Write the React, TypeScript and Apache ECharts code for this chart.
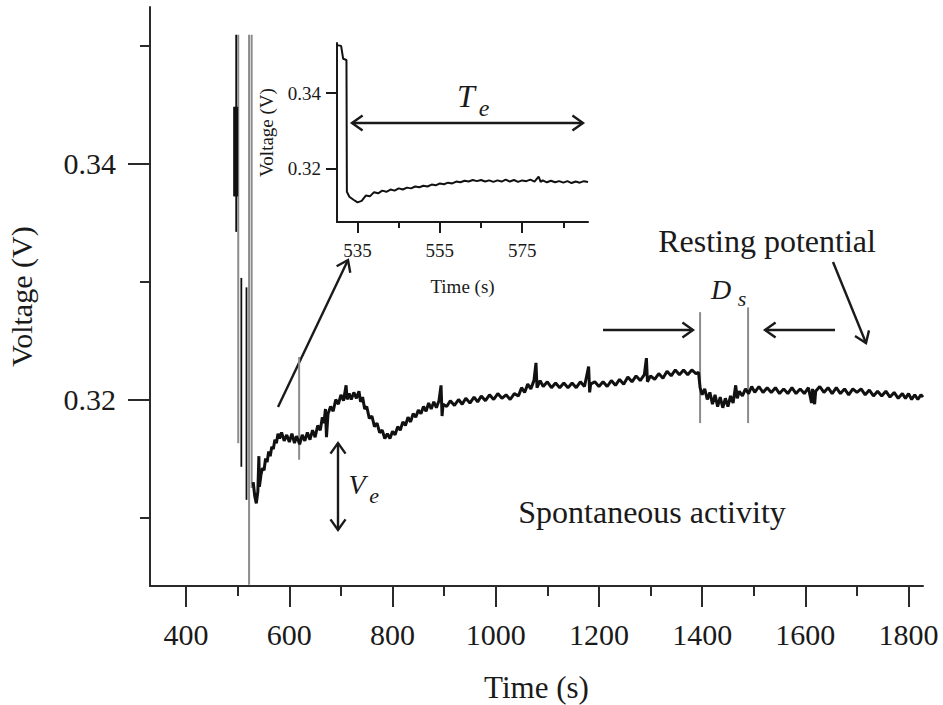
import React, { useEffect, useRef } from "react";
import * as echarts from "echarts";

// ---- tick values ----
const xMajorTicks = [400, 600, 800, 1000, 1200, 1400, 1600, 1800];
const xMinorTicks = [500, 700, 900, 1100, 1300, 1500, 1700];
const yMajorTicks = [0.32, 0.34];
const yMinorTicks = [0.31, 0.33, 0.35];
const insetXMajor = [535, 555, 575];
const insetXMinor = [545, 565, 585];
const insetYTicks = [0.32, 0.34];

// ---- main recording (time s, voltage V) ----
const mainTrace = [
  [530, 0.313], [533, 0.3118], [536, 0.3112], [539, 0.3122], [541, 0.3152], [542, 0.3126], [545, 0.3136],
  [548, 0.3142], [551, 0.314], [554, 0.315], [557, 0.3147], [560, 0.3156], [563, 0.3152], [566, 0.316],
  [569, 0.3158], [572, 0.3166], [575, 0.3163], [578, 0.3171], [581, 0.3167], [585, 0.3172], [590, 0.3165],
  [595, 0.317], [600, 0.3164], [605, 0.3171], [610, 0.3163], [614, 0.3169], [620, 0.3162], [625, 0.317],
  [630, 0.3165], [635, 0.3172], [640, 0.3166], [645, 0.3174], [650, 0.3168], [655, 0.3178], [660, 0.3174],
  [664, 0.3185], [667, 0.318], [670, 0.3192], [672, 0.3168], [675, 0.3188], [680, 0.3194], [685, 0.319],
  [690, 0.32], [695, 0.3196], [700, 0.3204], [705, 0.3199], [710, 0.3212], [712, 0.32], [716, 0.3205],
  [720, 0.32], [725, 0.3206], [730, 0.3201], [735, 0.3207], [738, 0.3198], [742, 0.3202], [746, 0.3192],
  [750, 0.3194], [755, 0.3184], [760, 0.3186], [765, 0.3177], [770, 0.318], [775, 0.3172], [780, 0.3174],
  [785, 0.3167], [790, 0.3171], [795, 0.3167], [800, 0.3173], [805, 0.317], [810, 0.3177], [815, 0.3174],
  [820, 0.3181], [825, 0.3178], [830, 0.3185], [835, 0.3181], [840, 0.3188], [845, 0.3185], [850, 0.3191],
  [855, 0.3188], [860, 0.3194], [865, 0.319], [870, 0.3197], [875, 0.3192], [880, 0.3198], [885, 0.3193],
  [890, 0.3199], [894, 0.3212], [896, 0.3186], [898, 0.3196], [905, 0.3194], [912, 0.3199], [920, 0.3195],
  [928, 0.32], [935, 0.3196], [942, 0.3201], [950, 0.3197], [958, 0.3202], [965, 0.3198], [972, 0.3203],
  [980, 0.3199], [988, 0.3204], [996, 0.32], [1004, 0.3205], [1012, 0.3201], [1020, 0.3204], [1028, 0.32],
  [1036, 0.3205], [1044, 0.3203], [1050, 0.321], [1056, 0.3206], [1062, 0.3213], [1068, 0.3209],
  [1074, 0.3216], [1078, 0.3231], [1080, 0.321], [1086, 0.3216], [1092, 0.3211], [1100, 0.3215],
  [1108, 0.321], [1116, 0.3214], [1124, 0.321], [1132, 0.3214], [1140, 0.321], [1148, 0.3214],
  [1156, 0.321], [1164, 0.3215], [1172, 0.3211], [1180, 0.3228], [1182, 0.3206], [1184, 0.3213],
  [1192, 0.3215], [1200, 0.3211], [1208, 0.3215], [1216, 0.3211], [1224, 0.3216], [1232, 0.3212],
  [1240, 0.3217], [1248, 0.3213], [1256, 0.3219], [1264, 0.3215], [1272, 0.322], [1280, 0.3216],
  [1288, 0.3221], [1292, 0.3235], [1294, 0.3215], [1300, 0.322], [1308, 0.3217], [1316, 0.3222],
  [1324, 0.3218], [1332, 0.3224], [1340, 0.322], [1348, 0.3225], [1356, 0.3221], [1364, 0.3225],
  [1372, 0.3221], [1380, 0.3225], [1388, 0.3222], [1393, 0.3223], [1396, 0.321], [1400, 0.3204],
  [1405, 0.3209], [1410, 0.32], [1415, 0.3206], [1420, 0.3196], [1425, 0.3204], [1430, 0.3194],
  [1435, 0.3202], [1440, 0.3193], [1445, 0.3201], [1450, 0.3194], [1455, 0.3203], [1460, 0.3197],
  [1465, 0.3212], [1468, 0.3201], [1472, 0.3207], [1478, 0.3203], [1484, 0.3209], [1490, 0.3205],
  [1496, 0.3211], [1502, 0.3206], [1510, 0.3211], [1518, 0.3206], [1526, 0.321], [1534, 0.3206],
  [1542, 0.321], [1550, 0.3205], [1558, 0.3209], [1566, 0.3205], [1574, 0.321], [1582, 0.3205],
  [1590, 0.3209], [1598, 0.3205], [1606, 0.321], [1612, 0.3197], [1614, 0.3209], [1618, 0.3196],
  [1620, 0.3207], [1628, 0.3211], [1636, 0.3206], [1644, 0.321], [1652, 0.3205], [1660, 0.321],
  [1668, 0.3205], [1676, 0.3209], [1684, 0.3204], [1692, 0.3209], [1700, 0.3206], [1708, 0.3209],
  [1716, 0.3204], [1724, 0.3208], [1732, 0.3203], [1740, 0.3207], [1748, 0.3203], [1756, 0.3207],
  [1764, 0.3202], [1772, 0.3206], [1780, 0.3201], [1788, 0.3205], [1794, 0.3201], [1800, 0.3205],
  [1806, 0.32], [1812, 0.3204], [1818, 0.32], [1824, 0.3204], [1828, 0.3202],
];

// vertical excursions: [time, low V, high V]
const graySpikes = [
  [501, 0.3163, 0.3509], [522, 0.3043, 0.3509], [527, 0.3125, 0.3509], [619, 0.3149, 0.3236],
  [1396, 0.318, 0.3274], [1489, 0.318, 0.3278],
];
const blackSpikes = [
  [497, 0.3342, 0.3509], [507, 0.3143, 0.3303], [517, 0.3115, 0.3295],
];
const thickSpikes = [[496, 0.3372, 0.3448]];

// ---- inset recording ----
const insetTrace = [
  [530, 0.3526], [531, 0.3524], [531.5, 0.349], [532.3, 0.3487], [532.4, 0.314], [533, 0.3127],
  [534, 0.3119], [535, 0.3112], [536, 0.3116], [537, 0.313], [538, 0.3128], [539, 0.3139], [540, 0.3136],
  [541, 0.3143], [542, 0.314], [543, 0.3146], [544, 0.3143], [545, 0.3149], [546, 0.3146], [547, 0.3151],
  [548, 0.3149], [549, 0.3154], [550, 0.3152], [551, 0.3156], [552, 0.3154], [553, 0.3159], [554, 0.3157],
  [555, 0.3162], [556, 0.316], [557, 0.3164], [558, 0.3162], [559, 0.3167], [560, 0.3165], [561, 0.3169],
  [562, 0.3167], [563, 0.3171], [564, 0.3168], [565, 0.3171], [566, 0.3167], [567, 0.317], [568, 0.3166],
  [569, 0.317], [570, 0.3167], [571, 0.3172], [572, 0.3167], [573, 0.3171], [574, 0.3166], [575, 0.317],
  [576, 0.3168], [577, 0.3172], [578, 0.3167], [579, 0.318], [579.5, 0.3166], [580, 0.317], [581, 0.3165],
  [582, 0.3169], [583, 0.3165], [584, 0.3168], [585, 0.3164], [586, 0.3168], [587, 0.3163], [588, 0.3167],
  [589, 0.3164], [590, 0.3168], [591, 0.3166],
];

const SERIF = '"Liberation Serif", "DejaVu Serif", serif';
const INK = "#1a1a1a";
const AXIS = "#2a2a2a";

function barSeries(data: number[][], color: string, width: number, xi: number, yi: number) {
  return {
    type: "custom",
    xAxisIndex: xi,
    yAxisIndex: yi,
    data,
    clip: true,
    z: 3,
    encode: { x: 0, y: [1, 2] },
    renderItem: (_p: any, api: any) => {
      const a = api.coord([api.value(0), api.value(1)]);
      const b = api.coord([api.value(0), api.value(2)]);
      return {
        type: "line",
        shape: { x1: a[0], y1: a[1], x2: b[0], y2: b[1] },
        style: { stroke: color, lineWidth: width },
      };
    },
  };
}

function head(tx: number, ty: number, fx: number, fy: number, len = 13, ang = 0.62) {
  const a = Math.atan2(fy - ty, fx - tx);
  return {
    type: "polyline",
    shape: {
      points: [
        [tx + len * Math.cos(a + ang), ty + len * Math.sin(a + ang)],
        [tx, ty],
        [tx + len * Math.cos(a - ang), ty + len * Math.sin(a - ang)],
      ],
    },
    style: { stroke: INK, lineWidth: 2.4, fill: null },
  };
}

function shaft(x1: number, y1: number, x2: number, y2: number) {
  return { type: "line", shape: { x1, y1, x2, y2 }, style: { stroke: INK, lineWidth: 2.4 } };
}

function label(text: string, x: number, y: number, size: number, italic = false) {
  return {
    type: "text",
    x,
    y,
    style: {
      text,
      fontSize: size,
      fontFamily: SERIF,
      fontStyle: italic ? "italic" : "normal",
      fill: INK,
      align: "center",
      verticalAlign: "middle",
      textAlign: "center",
      textVerticalAlign: "middle",
    },
  };
}

const plain = (v: number) => String(v);
const twoDp = (v: number) => v.toFixed(2);

export default function App() {
  const ref = useRef<HTMLDivElement>(null);
  useEffect(() => {
    if (!ref.current) return;
    const chart = echarts.init(ref.current, undefined, { renderer: "svg" });
    const tickLine = { color: AXIS, width: 2 };
    const option: any = {
      animation: false,
      backgroundColor: "#fff",
      grid: [
        { left: 150, top: 7, right: 20, bottom: 119, containLabel: false, outerBoundsMode: "none" },
        { left: 337, top: 43, right: 355, bottom: 483, containLabel: false, outerBoundsMode: "none" },
      ],
      xAxis: [
        {
          gridIndex: 0, type: "value", min: 330, max: 1828, position: "bottom",
          axisLine: { show: true, lineStyle: tickLine },
          axisTick: { show: true, customValues: xMajorTicks, length: 21, lineStyle: tickLine },
          axisLabel: { customValues: xMajorTicks, fontSize: 30, fontFamily: SERIF, color: INK, margin: 33, formatter: plain },
          splitLine: { show: false },
          name: "Time (s)", nameLocation: "middle", nameGap: 86,
          nameTextStyle: { fontSize: 31, fontFamily: SERIF, color: INK },
        },
        {
          gridIndex: 0, type: "value", min: 330, max: 1828, position: "bottom",
          axisLine: { show: false },
          axisTick: { show: true, customValues: xMinorTicks, length: 10, lineStyle: tickLine },
          axisLabel: { show: false },
          splitLine: { show: false },
        },
        {
          gridIndex: 1, type: "value", min: 530, max: 591, position: "bottom",
          axisLine: { show: true, lineStyle: { color: INK, width: 2 } },
          axisTick: { show: true, customValues: insetXMajor, length: 11, lineStyle: { color: INK, width: 2 } },
          axisLabel: { customValues: insetXMajor, fontSize: 19, fontFamily: SERIF, color: INK, margin: 19, formatter: plain },
          splitLine: { show: false },
          name: "Time (s)", nameLocation: "middle", nameGap: 55,
          nameTextStyle: { fontSize: 19, fontFamily: SERIF, color: INK },
        },
        {
          gridIndex: 1, type: "value", min: 530, max: 591, position: "bottom",
          axisLine: { show: false },
          axisTick: { show: true, customValues: insetXMinor, length: 6, lineStyle: { color: INK, width: 2 } },
          axisLabel: { show: false },
          splitLine: { show: false },
        },
      ],
      yAxis: [
        {
          gridIndex: 0, type: "value", min: 0.3042, max: 0.35325, position: "left",
          axisLine: { show: true, lineStyle: tickLine },
          axisTick: { show: true, customValues: yMajorTicks, length: 22, lineStyle: tickLine },
          axisLabel: {
            customValues: yMajorTicks, fontSize: 30, fontFamily: SERIF, color: INK, margin: 34, formatter: twoDp,
          },
          splitLine: { show: false },
          name: "Voltage (V)", nameLocation: "middle", nameGap: 114, nameRotate: 90,
          nameTextStyle: { fontSize: 30, fontFamily: SERIF, color: INK },
        },
        {
          gridIndex: 0, type: "value", min: 0.3042, max: 0.35325, position: "left",
          axisLine: { show: false },
          axisTick: { show: true, customValues: yMinorTicks, length: 10, lineStyle: tickLine },
          axisLabel: { show: false },
          splitLine: { show: false },
        },
        {
          gridIndex: 1, type: "value", min: 0.30605, max: 0.35316, position: "left",
          axisLine: { show: true, lineStyle: { color: INK, width: 2 } },
          axisTick: { show: true, customValues: insetYTicks, length: 11, lineStyle: { color: INK, width: 2 } },
          axisLabel: {
            customValues: insetYTicks, fontSize: 19, fontFamily: SERIF, color: INK, margin: 16, formatter: twoDp,
          },
          splitLine: { show: false },
          name: "Voltage (V)", nameLocation: "middle", nameGap: 61, nameRotate: 90,
          nameTextStyle: { fontSize: 19, fontFamily: SERIF, color: INK },
        },
      ],
      series: [
        barSeries(graySpikes, "#8c8c8c", 2, 0, 0),
        barSeries(blackSpikes, "#111", 1.8, 0, 0),
        barSeries(thickSpikes, "#111", 5, 0, 0),
        {
          type: "line", xAxisIndex: 0, yAxisIndex: 0, data: mainTrace, showSymbol: false, symbol: "none",
          lineStyle: { color: "#111", width: 3 }, z: 4,
        },
        {
          type: "line", xAxisIndex: 2, yAxisIndex: 2, data: insetTrace, showSymbol: false, symbol: "none",
          lineStyle: { color: "#111", width: 2 }, z: 4,
        },
      ],
      graphic: [
        // arrow to inset
        shaft(278, 407, 348, 260), head(348, 260, 278, 407),
        // V_e
        shaft(338, 443, 338, 530), head(338, 443, 338, 530), head(338, 530, 338, 443),
        label("V", 357, 484, 28, true), label("e", 374, 495, 22, true),
        // T_e
        shaft(352, 123, 583, 123), head(352, 123, 583, 123), head(583, 123, 352, 123),
        label("T", 466, 96, 32, true), label("e", 484, 108, 24, true),
        // D_s
        shaft(603, 330, 693, 330), head(693, 330, 603, 330),
        shaft(835, 330, 765, 330), head(765, 330, 835, 330),
        label("D", 721, 289, 28, true), label("s", 742, 298, 22, true),
        // resting potential
        shaft(833, 262, 866, 343), head(866, 343, 833, 262),
        label("Resting potential", 767, 241, 32),
        label("Spontaneous activity", 652, 512, 32),
      ],
    };
    chart.setOption(option);
    return () => chart.dispose();
  }, []);
  return (
    <div
      ref={ref}
      style={{ position: "absolute", left: 0, top: 0, width: 943, height: 705, background: "#fff" }}
    />
  );
}
